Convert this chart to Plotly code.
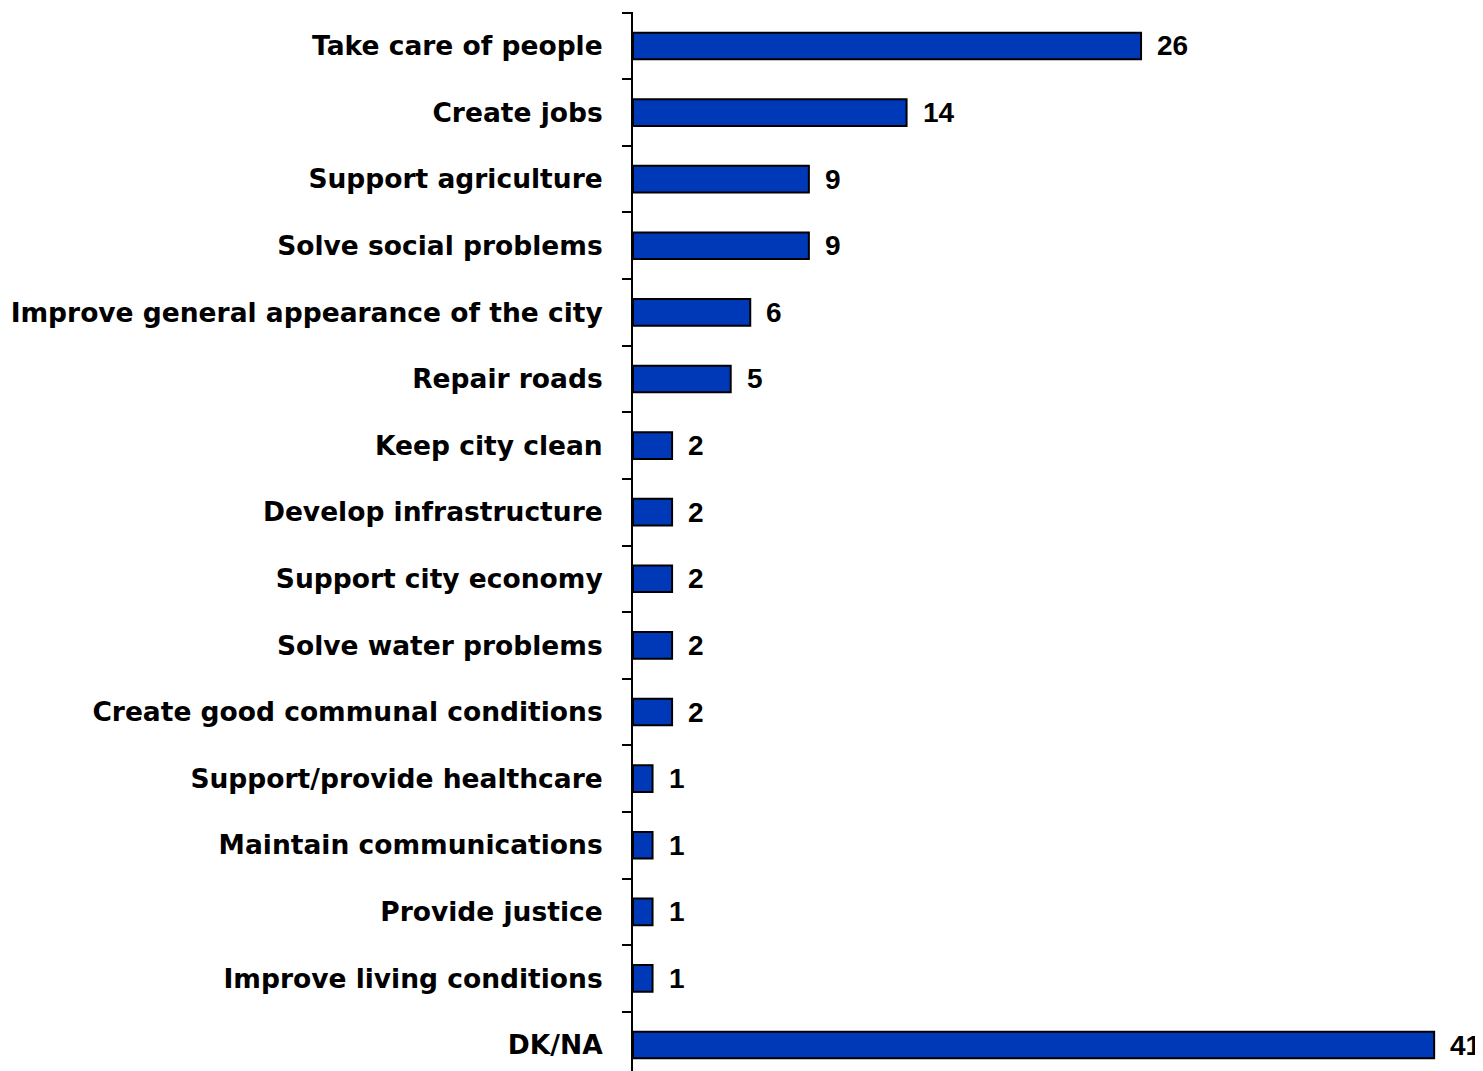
import plotly.graph_objects as go

categories = [
    "Take care of people",
    "Create jobs",
    "Support agriculture",
    "Solve social problems",
    "Improve general appearance of the city",
    "Repair roads",
    "Keep city clean",
    "Develop infrastructure",
    "Support city economy",
    "Solve water problems",
    "Create good communal conditions",
    "Support/provide healthcare",
    "Maintain communications",
    "Provide justice",
    "Improve living conditions",
    "DK/NA",
]
values = [26, 14, 9, 9, 6, 5, 2, 2, 2, 2, 2, 1, 1, 1, 1, 41]

FONT = "DejaVu Sans, Liberation Sans, Arial, sans-serif"
NUM_FONT = "Liberation Sans, Arial, sans-serif"

fig = go.Figure()
fig.add_trace(go.Bar(
    x=values,
    y=categories,
    orientation="h",
    marker=dict(color="#0039B8", line=dict(color="black", width=2)),
    hoverinfo="skip",
))

for c, v in zip(categories, values):
    fig.add_annotation(
        x=v, y=c, text=f"<b>{v}</b>", showarrow=False,
        xanchor="left", yanchor="middle", xshift=14,
        font=dict(family=NUM_FONT, size=28, color="black"),
    )

fig.update_layout(
    width=1475,
    height=1063,
    margin=dict(l=625, r=0, t=4, b=0),
    paper_bgcolor="white",
    plot_bgcolor="white",
    bargap=0.6,
    showlegend=False,
    font=dict(family=FONT, size=26.5, color="black"),
    xaxis=dict(
        range=[0, 43.5],
        visible=False,
        showgrid=False,
        zeroline=False,
    ),
    yaxis=dict(
        type="category",
        categoryorder="array",
        categoryarray=categories,
        range=[15.39, -0.51],
        showline=True,
        linecolor="black",
        linewidth=2,
        ticks="outside",
        tickson="boundaries",
        ticklen=9,
        tickwidth=1.5,
        tickcolor="black",
        ticklabelstandoff=23,
        showgrid=False,
        zeroline=False,
        tickfont=dict(family=FONT, size=26.5, color="black", weight="bold"),
    ),
)

fig.write_html("out.html")
